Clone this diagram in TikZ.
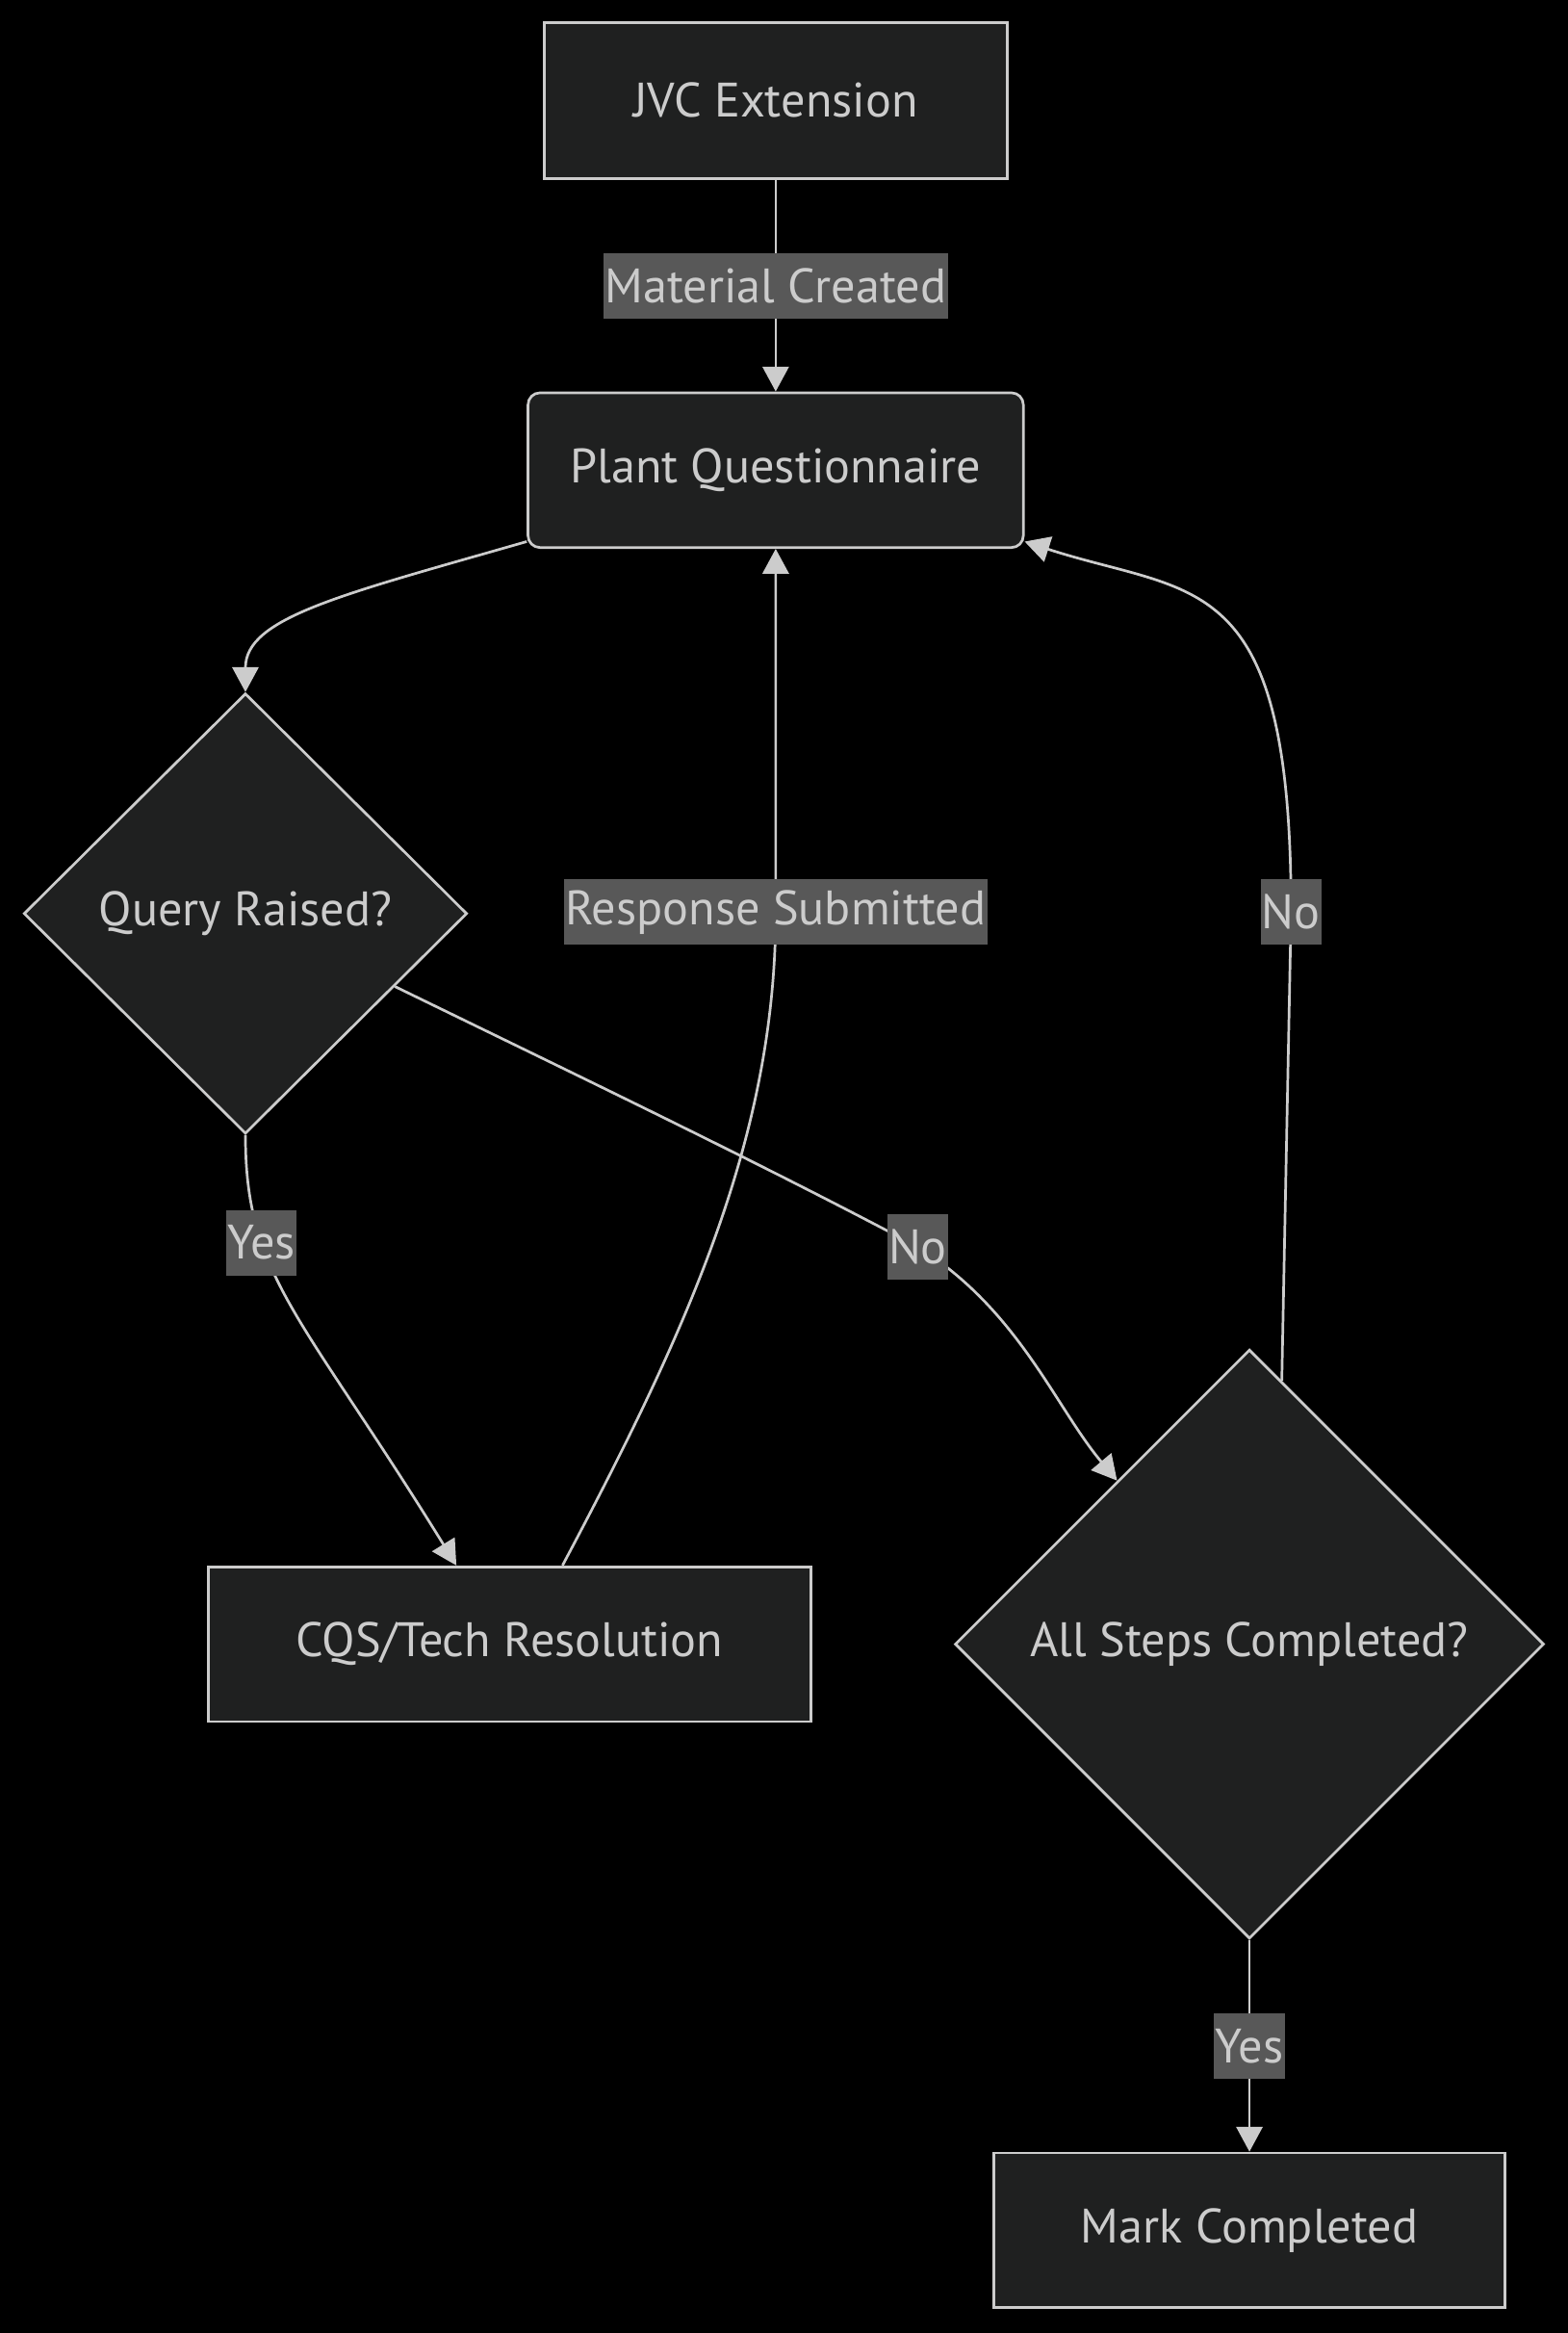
\documentclass[tikz,border=0pt]{standalone}
\usepackage{fontspec}
\setmainfont{PT Sans}
\usetikzlibrary{calc,shapes,arrows.meta,positioning}

\definecolor{nodefill}{HTML}{1F2020}
\definecolor{edgegray}{HTML}{CCCCCC}
\definecolor{labelgray}{HTML}{585858}

\begin{document}
\begin{tikzpicture}[
  font=\fontsize{18.5pt}{22pt}\selectfont,
  box/.style={rectangle, draw=edgegray, line width=1pt, fill=nodefill, text=edgegray, minimum width=6cm, minimum height=2.08cm, align=center},
  decision/.style={diamond, draw=edgegray, line width=1pt, fill=nodefill, text=edgegray, inner sep=0pt, align=center},
  arrow/.style={-{Triangle[length=9.5pt,width=10pt]}, draw=edgegray, line width=1pt},
  lbl/.style={fill=labelgray, text=edgegray, inner xsep=0.5pt, inner ysep=0pt, minimum height=0.88cm}
]
  \useasboundingbox (0,0) rectangle (21.08,-31.36);
  \fill[black] (0,0) rectangle (21.08,-31.36);

  \node[box, minimum width=6.22cm, minimum height=2.10cm] (jvc) at (10.43,-1.35) {JVC Extension};
  \node[box, rounded corners=0.16cm, minimum width=6.66cm] (plant) at (10.43,-6.32) {Plant Questionnaire};
  \node[decision, minimum width=5.96cm, minimum height=5.92cm] (query) at (3.30,-12.28) {Query Raised?};
  \node[box, minimum width=8.10cm] (cqs) at (6.85,-22.10) {CQS/Tech Resolution};
  \node[decision, minimum width=7.92cm, minimum height=7.92cm] (steps) at (16.80,-22.10) {All Steps Completed?};
  \node[box, minimum width=6.88cm] (mark) at (16.80,-29.98) {Mark Completed};

  \draw[arrow] (jvc) -- node[lbl] {Material Created} (plant);
  \draw[arrow] (plant.196) .. controls +(196:2.6) and +(0,1.0) .. (query.north);
  \draw[arrow] (query.south) .. controls +(0,-1.9) and +(-2.1,3.4) .. (cqs.124) node[lbl, pos=0.3] {Yes};
  \draw[arrow] (query.-26) .. controls +(-26:2.6) and +(152:2.4) .. (12.34,-16.76) node[lbl] {No}
    .. controls +(-32:1.6) and +(130:1.3) .. (steps.129);
  \draw[arrow] (cqs.56) .. controls +(62:3.6) and +(0,-3.0) .. (10.43,-12.26) node[lbl] {Response Submitted} -- (plant);
  \draw[arrow] (steps.83) -- (17.36,-12.26) node[lbl] {No} .. controls +(0,4.66) and +(-18:2.4) .. (plant.-16);
  \draw[arrow] (steps) -- node[lbl] {Yes} (mark);
\end{tikzpicture}
\end{document}
